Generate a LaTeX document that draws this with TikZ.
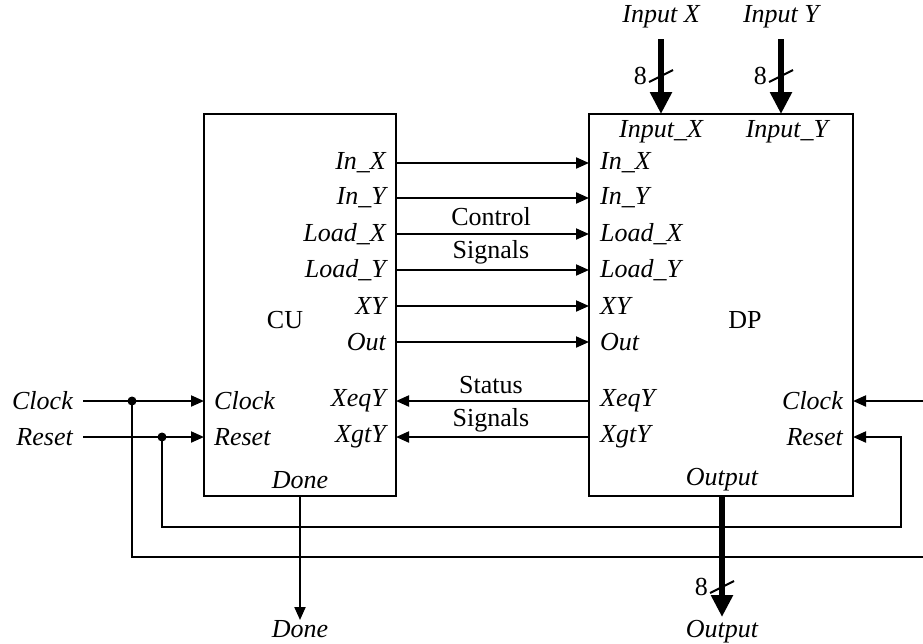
\documentclass[tikz,border=0pt]{standalone}
\usepackage{fontspec}
\setmainfont{Liberation Serif}
\usetikzlibrary{arrows.meta}
\begin{document}
\begin{tikzpicture}[x=1pt,y=-1pt,
  every node/.style={font=\fontsize{26}{31}\selectfont, inner sep=0pt},
  blk/.style={draw, line width=2pt, inner sep=0pt},
  wire/.style={line width=2pt},
  sig/.style={wire, -{Triangle[length=13pt,width=11pt]}},
  bus/.style={line width=5.5pt, -{Triangle[length=22pt,width=21pt]}},
  tick/.style={line width=2pt},
  lbl/.style={font=\fontsize{26}{31}\selectfont\itshape},
  dot/.style={circle, fill, minimum size=9pt, inner sep=0pt}]
\useasboundingbox (0,0) rectangle (923,643);
% blocks
\node[blk, minimum width=192pt, minimum height=382pt] (CU) at (300,305) {};
\node[blk, minimum width=264pt, minimum height=382pt] (DP) at (721,305) {};
\node at (285,320) {CU};
\node at (745,320) {DP};
% control signals
\foreach \n/\t/\y in {a/In\_X/163, b/In\_Y/198, c/Load\_X/234, d/Load\_Y/270, e/XY/306, f/Out/342}{
  \coordinate (cu\n) at (396,\y);
  \coordinate (dp\n) at (589,\y);
  \node[lbl, anchor=east] at (386,\y) {\t};
  \node[lbl, anchor=west] at (600,\y) {\t};
  \draw[sig] (cu\n) -- (dp\n);
}
\node at (491,217) {Control};
\node at (491,252) {Signals};
% status signals
\foreach \n/\t/\y in {g/XeqY/401, h/XgtY/437}{
  \coordinate (cu\n) at (396,\y);
  \coordinate (dp\n) at (589,\y);
  \node[lbl, anchor=east] at (386,\y) {\t};
  \node[lbl, anchor=west] at (600,\y) {\t};
  \draw[sig] (dp\n) -- (cu\n);
}
\node at (491,385) {Status};
\node at (491,420) {Signals};
% CU left ports
\node[lbl, anchor=west] at (214,401) {Clock};
\node[lbl, anchor=west] at (214,437) {Reset};
\node[lbl, anchor=east] (clkin) at (73,401) {Clock};
\node[lbl, anchor=east] (rstin) at (73,437) {Reset};
\coordinate (cuclk) at (204,401);
\coordinate (curst) at (204,437);
\node[dot] (dclk) at (132,401) {};
\node[dot] (drst) at (162,437) {};
\draw[sig] ([xshift=10pt]clkin.east) -- (cuclk);
\draw[sig] ([xshift=10pt]rstin.east) -- (curst);
% DP right ports
\node[lbl, anchor=east] at (843,401) {Clock};
\node[lbl, anchor=east] at (843,437) {Reset};
\coordinate (dpclk) at (853,401);
\coordinate (dprst) at (853,437);
\coordinate (clkR) at (923,401);
\coordinate (clkB) at (923,557);
\draw[sig] (clkR) -- (dpclk);
\draw[sig] (drst.center) -- (162,527) -| (901,437) -- (dprst);
\draw[wire] (dclk.center) -- (132,557) -- (clkB);
% Done
\node[lbl] at (300,480) {Done};
\coordinate (cudone) at (300,496);
\node[lbl, anchor=north] (done) at (300,620) {Done};
\draw[sig] (cudone) -- (done.north);
% inputs
\node[lbl] at (661,132) {Input\_X};
\node[lbl] at (787,132) {Input\_Y};
\node[lbl] (inx) at (661,17) {Input X};
\node[lbl] (iny) at (781,17) {Input Y};
\coordinate (dpinx) at (661,114);
\coordinate (dpiny) at (781,114);
\draw[bus] (661,39) -- (dpinx);
\draw[bus] (781,39) -- (dpiny);
\foreach \x in {661,781}{
  \draw[tick] (\x-12,82) -- (\x+12,70);
  \node[anchor=east] at (\x-14,76) {8};
}
% output
\node[lbl] at (722,480) {Output};
\coordinate (dpout) at (722,497);
\node[lbl, anchor=north] (outl) at (722,620) {Output};
\draw[bus] (dpout) -- (722,617);
\draw[tick] (710,593) -- (734,581);
\node[anchor=east] at (708,587) {8};
\end{tikzpicture}
\end{document}
